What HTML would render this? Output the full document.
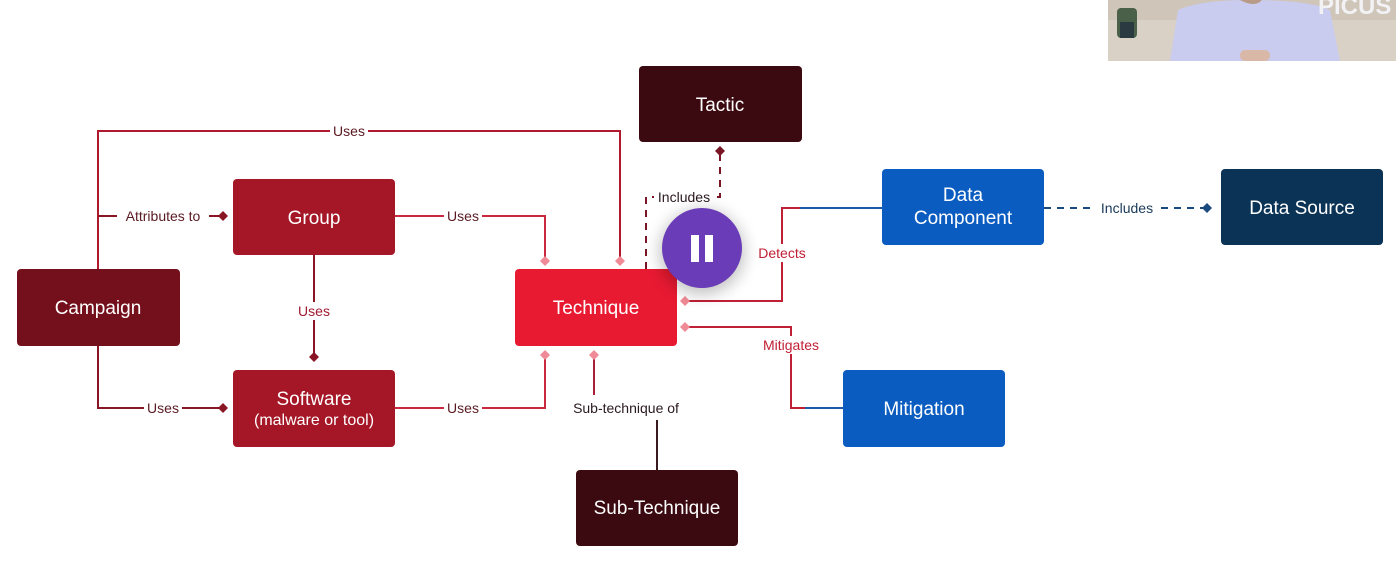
<!DOCTYPE html>
<html><head><meta charset="utf-8"><style>
html,body{margin:0;padding:0;background:#fff;width:1400px;height:561px;overflow:hidden}
text{font-family:"Liberation Sans",sans-serif}
</style></head><body>
<svg width="1400" height="561" viewBox="0 0 1400 561" xmlns="http://www.w3.org/2000/svg">
<defs>
<filter id="sh" x="-50%" y="-50%" width="200%" height="200%"><feGaussianBlur stdDeviation="8"/></filter>
<clipPath id="vc"><rect x="1108" y="0" width="288" height="61"/></clipPath>
</defs>
<!-- video thumbnail -->
<g clip-path="url(#vc)">
<rect x="1108" y="0" width="288" height="61" fill="#d9d1c6"/>
<rect x="1108" y="0" width="288" height="20" fill="#cfc5b8"/>
<rect x="1117" y="8" width="20" height="30" rx="4" fill="#4a6048"/>
<rect x="1120" y="22" width="14" height="16" fill="#2a3a40"/>
<path d="M1170 61 L1178 10 Q1200 0 1250 0 Q1310 0 1330 10 L1340 61 Z" fill="#c9cbef"/>
<path d="M1240 0 Q1255 8 1262 0 Z" fill="#b89a86"/>
<rect x="1240" y="50" width="30" height="11" rx="5" fill="#d9b8a8"/>
<text x="1318" y="14" font-size="24" font-weight="bold" fill="#f2f2f5">PICUS</text>
</g>
<!-- connectors -->
<g fill="none" stroke-width="2">
<path d="M98 269 V131 H620 V264" stroke="#b01a2e"/>
<path d="M98 216 H226" stroke="#8a1525"/>
<path d="M395 216 H545 V264" stroke="#c9283e"/>
<path d="M314 255 V360" stroke="#8a1525"/>
<path d="M98 346 V408 H226" stroke="#8a1525"/>
<path d="M395 408 H545 V352" stroke="#c9283e"/>
<path d="M657 470 V420" stroke="#3a1a1e"/>
<path d="M594 395 V352" stroke="#a82035"/>
<path d="M646 269 V197 H720 V152" stroke="#7a1525" stroke-dasharray="7,6"/>
<path d="M882 208 H782 V301 H682" stroke="#c02035"/>
<path d="M882 208 H800" stroke="#1a5aa8"/>
<path d="M843 408 H791 V327 H682" stroke="#c02035"/>
<path d="M843 408 H805" stroke="#1a5aa8"/>
<path d="M1044 208 H1208" stroke="#1a4a80" stroke-dasharray="7,6"/>
</g>
<!-- diamonds -->
<g>
<path d="M228 216 l-5 -5 -5 5 5 5z" fill="#8a1525"/>
<path d="M228 408 l-5 -5 -5 5 5 5z" fill="#8a1525"/>
<path d="M314 362 l-5 -5 5 -5 5 5z" fill="#8a1525"/>
<path d="M545 266 l-5 -5 5 -5 5 5z" fill="#f08a96"/>
<path d="M620 266 l-5 -5 5 -5 5 5z" fill="#f08a96"/>
<path d="M545 350 l-5 5 5 5 5 -5z" fill="#f08a96"/>
<path d="M594 350 l-5 5 5 5 5 -5z" fill="#f08a96"/>
<path d="M720 146 l-5 5 5 5 5 -5z" fill="#7a1525"/>
<path d="M680 301 l5 -5 5 5 -5 5z" fill="#f08a96"/>
<path d="M680 327 l5 -5 5 5 -5 5z" fill="#f08a96"/>
<path d="M1212 208 l-5 -5 -5 5 5 5z" fill="#1a4a80"/>
</g>
<!-- label backgrounds + labels -->
<g font-size="14">
<rect x="330" y="122" width="38" height="18" fill="#fff"/><text x="349" y="136" text-anchor="middle" fill="#5a1a22">Uses</text>
<rect x="117" y="207" width="92" height="18" fill="#fff"/><text x="163" y="221" text-anchor="middle" fill="#5a1a22">Attributes to</text>
<rect x="444" y="207" width="38" height="18" fill="#fff"/><text x="463" y="221" text-anchor="middle" fill="#5a1a22">Uses</text>
<rect x="295" y="302" width="38" height="18" fill="#fff"/><text x="314" y="316" text-anchor="middle" fill="#a01a30">Uses</text>
<rect x="144" y="399" width="38" height="18" fill="#fff"/><text x="163" y="413" text-anchor="middle" fill="#5a1a22">Uses</text>
<rect x="444" y="399" width="38" height="18" fill="#fff"/><text x="463" y="413" text-anchor="middle" fill="#5a1a22">Uses</text>
<rect x="564" y="399" width="124" height="20" fill="#fff"/><text x="626" y="413" text-anchor="middle" fill="#2a1a1e">Sub-technique of</text>
<rect x="654" y="188" width="60" height="18" fill="#fff"/><text x="684" y="202" text-anchor="middle" fill="#2a1a1e">Includes</text>
<rect x="754" y="244" width="56" height="18" fill="#fff"/><text x="782" y="258" text-anchor="middle" fill="#c02035">Detects</text>
<rect x="758" y="336" width="66" height="18" fill="#fff"/><text x="791" y="350" text-anchor="middle" fill="#c02035">Mitigates</text>
<rect x="1096" y="199" width="62" height="18" fill="#fff"/><text x="1127" y="213" text-anchor="middle" fill="#1a3a5a">Includes</text>
</g>
<!-- nodes -->
<g font-size="19" fill="#fff" text-anchor="middle">
<rect x="639" y="66" width="163" height="76" rx="4" fill="#3a0a10"/><text x="720" y="111" fill="#fff">Tactic</text>
<rect x="233" y="179" width="162" height="76" rx="4" fill="#a51626"/><text x="314" y="224" fill="#fff">Group</text>
<rect x="17" y="269" width="163" height="77" rx="4" fill="#74101c"/><text x="98" y="314" fill="#fff">Campaign</text>
<rect x="233" y="370" width="162" height="77" rx="4" fill="#a51626"/><text x="314" y="405" fill="#fff">Software</text><text x="314" y="425" font-size="16" fill="#fff">(malware or tool)</text>
<rect x="515" y="269" width="162" height="77" rx="4" fill="#e81a32"/><text x="596" y="314" fill="#fff">Technique</text>
<rect x="882" y="169" width="162" height="76" rx="4" fill="#0b5cc0"/><text x="963" y="201" fill="#fff">Data</text><text x="963" y="224" fill="#fff">Component</text>
<rect x="1221" y="169" width="162" height="76" rx="4" fill="#0b3356"/><text x="1302" y="214" fill="#fff">Data Source</text>
<rect x="843" y="370" width="162" height="77" rx="4" fill="#0b5cc0"/><text x="924" y="415" fill="#fff">Mitigation</text>
<rect x="576" y="470" width="162" height="76" rx="4" fill="#3a0a10"/><text x="657" y="514" fill="#fff">Sub-Technique</text>
</g>
<!-- pause button -->
<circle cx="702" cy="252" r="42" fill="#000" opacity="0.25" filter="url(#sh)"/>
<circle cx="702" cy="248" r="40" fill="#6a3cb8"/>
<rect x="691" y="235" width="8" height="27" fill="#fff"/>
<rect x="705" y="235" width="8" height="27" fill="#fff"/>
</svg>
</body></html>
